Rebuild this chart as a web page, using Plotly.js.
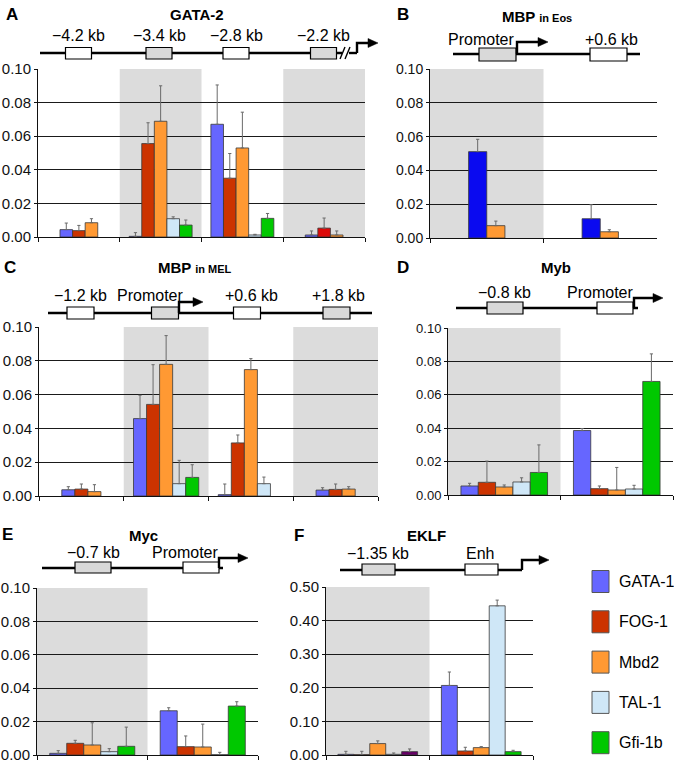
<!DOCTYPE html>
<html>
<head>
<meta charset="utf-8">
<script src="https://cdn.plot.ly/plotly-3.0.1.min.js"></script>
<style>
  html, body { margin: 0; padding: 0; background: #fff; }
  #chart { width: 674px; height: 763px; }
</style>
</head>
<body>
<div id="chart"></div>
<script>
// ---------------- DATA ----------------
const SERIES = ['GATA-1', 'FOG-1', 'Mbd2', 'TAL-1', 'Gfi-1b'];

// Panel A: GATA-2
const A_CATS = ['\u22124.2 kb', '\u22123.4 kb', '\u22122.8 kb', '\u22122.2 kb'];
const A_GATA1 = [0.0044, 0.0004, 0.0671, 0.0012];
const A_FOG1  = [0.0038, 0.0556, 0.0350, 0.0053];
const A_MBD2  = [0.0085, 0.0689, 0.0530, 0.0012];
const A_TAL1  = [null, 0.0109, 0.0012, null];
const A_GFI1B = [null, 0.0071, 0.0111, null];
const A_GATA1_ERR = [0.0039, 0.0022, 0.0234, 0.0024];
const A_FOG1_ERR  = [0.0031, 0.0124, 0.0147, 0.0060];
const A_MBD2_ERR  = [0.0024, 0.0211, 0.0213, 0.0024];
const A_TAL1_ERR  = [null, 0.0011, 0.0004, null];
const A_GFI1B_ERR = [null, 0.0030, 0.0029, null];

// Panel B: MBP in Eos
const B_CATS = ['Promoter', '+0.6 kb'];
const B_GATA1 = [0.0511, 0.0114];
const B_MBD2  = [0.0073, 0.0037];
const B_GATA1_ERR = [0.0073, 0.0083];
const B_MBD2_ERR  = [0.0027, 0.0012];

// Panel C: MBP in MEL
const C_CATS = ['\u22121.2 kb', 'Promoter', '+0.6 kb', '+1.8 kb'];
const C_GATA1 = [0.0037, 0.0458, 0.0008, 0.0035];
const C_FOG1  = [0.0041, 0.0542, 0.0314, 0.0039];
const C_MBD2  = [0.0026, 0.0779, 0.0748, 0.0041];
const C_TAL1  = [null, 0.0073, 0.0073, null];
const C_GFI1B = [null, 0.0110, null, null];
const C_GATA1_ERR = [0.0018, 0.0138, 0.0063, 0.0014];
const C_FOG1_ERR  = [0.0030, 0.0235, 0.0047, 0.0032];
const C_MBD2_ERR  = [0.0041, 0.0170, 0.0065, 0.0014];
const C_TAL1_ERR  = [null, 0.0138, 0.0039, null];
const C_GFI1B_ERR = [null, 0.0075, null, null];

// Panel D: Myb
const D_CATS = ['\u22120.8 kb', 'Promoter'];
const D_GATA1 = [0.0054, 0.0386];
const D_FOG1  = [0.0076, 0.0038];
const D_MBD2  = [0.0048, 0.0030];
const D_TAL1  = [0.0078, 0.0036];
const D_GFI1B = [0.0135, 0.0680];
const D_GATA1_ERR = [0.0016, 0.0012];
const D_FOG1_ERR  = [0.0127, 0.0016];
const D_MBD2_ERR  = [0.0012, 0.0135];
const D_TAL1_ERR  = [0.0025, 0.0022];
const D_GFI1B_ERR = [0.0165, 0.0165];

// Panel E: Myc
const E_CATS = ['\u22120.7 kb', 'Promoter'];
const E_GATA1 = [0.0010, 0.0265];
const E_FOG1  = [0.0070, 0.0050];
const E_MBD2  = [0.0060, 0.0048];
const E_TAL1  = [0.0020, 0.0002];
const E_GFI1B = [0.0052, 0.0293];
const E_GATA1_ERR = [0.0016, 0.0018];
const E_FOG1_ERR  = [0.0018, 0.0064];
const E_MBD2_ERR  = [0.0133, 0.0137];
const E_TAL1_ERR  = [0.0018, 0.0014];
const E_GFI1B_ERR = [0.0115, 0.0026];

// Panel F: EKLF
const F_CATS = ['\u22121.35 kb', 'Enh'];
const F_GATA1 = [0.002, 0.207];
const F_FOG1  = [0.001, 0.012];
const F_MBD2  = [0.034, 0.022];
const F_TAL1  = [0.002, 0.444];
const F_GFI1B = [0.010, 0.010];
const F_GATA1_ERR = [0.009, 0.040];
const F_FOG1_ERR  = [0.010, 0.011];
const F_MBD2_ERR  = [0.008, 0.003];
const F_TAL1_ERR  = [0.004, 0.017];
const F_GFI1B_ERR = [0.008, 0.004];

// ---------------- STYLE ----------------
const COLORS = ['#6666ff', '#cc3300', '#ff9933', '#cfe7f7', '#00c800'];
const B_COLORS = ['#0a0af0', '#ff9933'];
const SHADE = '#dcdcdc';
const FONT = 'Liberation Sans, Arial, Helvetica, sans-serif';
const W = 674, H = 763;
const PX = v => v / W;
const PY = v => 1 - v / H;

const traces = [];
const shapes = [];
const annotations = [];

function errBar(es) {
  return {
    type: 'data', symmetric: false, array: es, arrayminus: es.map(() => 0),
    color: '#6a6a6a', thickness: 1, width: 1.6, visible: true
  };
}

function addPanel(ax, ay, cats, vals, errs, overrides) {
  overrides = overrides || {};
  const full = cats.map((_, j) => vals[3][j] != null || vals[4][j] != null);
  const mk = (k, ys, es, ag, og) => ({
    type: 'bar', name: SERIES[k], x: cats, y: ys, xaxis: ax, yaxis: ay,
    alignmentgroup: ag, offsetgroup: og, showlegend: false, hoverinfo: 'skip',
    marker: {
      color: ys.map((_, j) => (overrides[k] && overrides[k][j]) || COLORS[k]),
      line: { color: '#3a3a3a', width: 0.8 }
    },
    error_y: errBar(es)
  });
  for (let k = 0; k < 5; k++) {
    traces.push(mk(k, vals[k].map((v, j) => full[j] ? v : null),
                   errs[k].map((v, j) => full[j] ? v : null), 'full', 's' + k));
  }
  if (full.some(f => !f)) {
    const pad = og => ({ type: 'bar', x: cats, y: cats.map(() => null), xaxis: ax, yaxis: ay,
      alignmentgroup: 'part', offsetgroup: og, showlegend: false, hoverinfo: 'skip' });
    traces.push(pad('p0'));
    for (let k = 0; k < 3; k++) {
      traces.push(mk(k, vals[k].map((v, j) => full[j] ? null : v),
                     errs[k].map((v, j) => full[j] ? null : v), 'part', 's' + k));
    }
    traces.push(pad('p4'));
  }
}

addPanel('x', 'y', A_CATS, [A_GATA1, A_FOG1, A_MBD2, A_TAL1, A_GFI1B],
  [A_GATA1_ERR, A_FOG1_ERR, A_MBD2_ERR, A_TAL1_ERR, A_GFI1B_ERR], { 1: { 3: '#dd0a0a' } });
addPanel('x3', 'y3', C_CATS, [C_GATA1, C_FOG1, C_MBD2, C_TAL1, C_GFI1B],
  [C_GATA1_ERR, C_FOG1_ERR, C_MBD2_ERR, C_TAL1_ERR, C_GFI1B_ERR]);
addPanel('x4', 'y4', D_CATS, [D_GATA1, D_FOG1, D_MBD2, D_TAL1, D_GFI1B],
  [D_GATA1_ERR, D_FOG1_ERR, D_MBD2_ERR, D_TAL1_ERR, D_GFI1B_ERR]);
addPanel('x5', 'y5', E_CATS, [E_GATA1, E_FOG1, E_MBD2, E_TAL1, E_GFI1B],
  [E_GATA1_ERR, E_FOG1_ERR, E_MBD2_ERR, E_TAL1_ERR, E_GFI1B_ERR]);
addPanel('x6', 'y6', F_CATS, [F_GATA1, F_FOG1, F_MBD2, F_TAL1, F_GFI1B],
  [F_GATA1_ERR, F_FOG1_ERR, F_MBD2_ERR, F_TAL1_ERR, F_GFI1B_ERR], { 4: { 0: '#660066' } });

// Panel B: two series, adjacent bars centred on each category
[[B_GATA1, B_GATA1_ERR, -0.16, 0], [B_MBD2, B_MBD2_ERR, 0, 1]].forEach(([ys, es, off, c]) => {
  traces.push({
    type: 'bar', name: c === 0 ? 'GATA-1' : 'Mbd2', x: B_CATS, y: ys, xaxis: 'x2', yaxis: 'y2',
    width: 0.16, offset: off, showlegend: false, hoverinfo: 'skip',
    marker: { color: B_COLORS[c], line: { color: '#3a3a3a', width: 0.8 } },
    error_y: errBar(es)
  });
});

// ---------------- AXES ----------------
const panels = [
  { id: '',  cats: A_CATS, x: [38, 365], y: [69, 237], max: 0.1, dt: 0.02, fs: 15, shade: [0, 1, 0, 1] },
  { id: '2', cats: B_CATS, x: [430, 657], y: [69, 238], max: 0.1, dt: 0.02, fs: 14, shade: [1, 0] },
  { id: '3', cats: C_CATS, x: [39, 378], y: [327, 496], max: 0.1, dt: 0.02, fs: 15, shade: [0, 1, 0, 1] },
  { id: '4', cats: D_CATS, x: [448, 673], y: [328, 495], max: 0.1, dt: 0.02, fs: 13, shade: [1, 0] },
  { id: '5', cats: E_CATS, x: [37, 258], y: [588, 755], max: 0.1, dt: 0.02, fs: 15, shade: [1, 0] },
  { id: '6', cats: F_CATS, x: [326, 533], y: [587, 755], max: 0.5, dt: 0.1, fs: 15, shade: [1, 0] }
];

const layout = {
  width: W, height: H, margin: { l: 0, r: 0, t: 0, b: 0 },
  paper_bgcolor: '#ffffff', plot_bgcolor: 'rgba(0,0,0,0)',
  showlegend: false, barmode: 'group', bargap: 0.23, bargroupgap: 0,
  font: { family: FONT, color: '#111' }
};

panels.forEach(p => {
  layout['xaxis' + p.id] = {
    domain: [PX(p.x[0]), PX(p.x[1])], anchor: 'y' + p.id, type: 'category',
    range: [-0.5, p.cats.length - 0.5], showticklabels: false, showgrid: false,
    showline: true, linecolor: '#111', linewidth: 1, ticks: 'outside', tickson: 'boundaries',
    ticklen: 4, tickcolor: '#111', zeroline: false, fixedrange: true
  };
  layout['yaxis' + p.id] = {
    domain: [PY(p.y[1]), PY(p.y[0])], anchor: 'x' + p.id,
    range: [0, p.max], dtick: p.dt, tick0: 0, tickformat: '.2f', ticklabeloverflow: 'allow',
    showline: true, linecolor: '#111', linewidth: 1, ticks: 'outside', ticklen: 3, tickcolor: '#111',
    showgrid: true, gridcolor: '#1a1a1a', gridwidth: 1, zeroline: false, fixedrange: true,
    tickfont: { family: FONT, size: p.fs, color: '#111' }
  };
  p.shade.forEach((s, i) => {
    if (s) shapes.push({ type: 'rect', xref: 'x' + p.id, yref: 'y' + p.id + ' domain',
      x0: i - 0.5, x1: i + 0.5, y0: 0, y1: 1, fillcolor: SHADE, line: { width: 0 }, layer: 'below' });
  });
});

// ---------------- GENE DIAGRAMS ----------------
function line(x0, y0, x1, y1, w) {
  shapes.push({ type: 'line', xref: 'paper', yref: 'paper', x0: PX(x0), y0: PY(y0), x1: PX(x1), y1: PY(y1),
    line: { color: '#000', width: w || 2.4 } });
}
function box(x0, x1, y0, y1, shaded) {
  shapes.push({ type: 'rect', xref: 'paper', yref: 'paper', x0: PX(x0), x1: PX(x1), y0: PY(y1), y1: PY(y0),
    fillcolor: shaded ? '#d9d9d9' : '#ffffff', line: { color: '#000', width: 1.2 } });
}
function arrow(x, yBase, yTop, xEnd) {
  shapes.push({ type: 'path', xref: 'paper', yref: 'paper',
    path: `M ${PX(x)},${PY(yBase)} L ${PX(x)},${PY(yTop)} L ${PX(xEnd - 7)},${PY(yTop)}`,
    line: { color: '#000', width: 2.4 } });
  shapes.push({ type: 'path', xref: 'paper', yref: 'paper',
    path: `M ${PX(xEnd)},${PY(yTop)} L ${PX(xEnd - 10)},${PY(yTop - 4.5)} L ${PX(xEnd - 10)},${PY(yTop + 4.5)} Z`,
    fillcolor: '#000', line: { color: '#000', width: 0.5 } });
}
function text(t, x, y, size, bold, anchor) {
  annotations.push({ xref: 'paper', yref: 'paper', x: PX(x), y: PY(y), text: bold ? '<b>' + t + '</b>' : t,
    showarrow: false, xanchor: anchor || 'center', yanchor: 'middle',
    font: { family: FONT, size: size, color: '#000' } });
}

// A
text('A', 4, 14, 17, true, 'left');
text('GATA-2', 197, 14, 15, true);
line(40, 53, 342, 53); line(349, 53, 357, 53);
line(340, 59, 345, 47, 1.4); line(345, 59, 350, 47, 1.4);
[78.5, 159, 236, 323.5].forEach((c, i) => { box(c - 13, c + 13, 47.5, 59, [0, 1, 0, 1][i]); text(A_CATS[i], c, 36, 16); });
arrow(357, 53, 43, 378);

// B
text('B', 395, 14, 17, true, 'left');
text('MBP <span style="font-size:11px">in Eos</span>', 537, 17, 15, true);
line(453, 54, 640, 54);
box(479, 516, 48, 61, 1); box(590, 627, 48, 61, 0);
arrow(517, 54, 42, 548);
text(B_CATS[0], 481, 39, 16); text(B_CATS[1], 611, 39, 16);

// C
text('C', 2, 268, 17, true, 'left');
text('MBP <span style="font-size:11px">in MEL</span>', 195, 268, 15, true);
line(48, 313, 372, 313);
[80.5, 165, 247, 336.5].forEach((c, i) => box(c - 13.5, c + 13.5, 307, 319, [0, 1, 0, 1][i]));
arrow(179, 313, 302, 203);
[80, 150, 252, 338].forEach((c, i) => text(C_CATS[i], c, 296, 16));

// D
text('D', 395, 268, 17, true, 'left');
text('Myb', 556, 268, 15, true);
line(456, 308, 638, 308);
box(487, 523, 302, 314, 1); box(597, 633, 302, 314, 0);
arrow(634, 308, 298, 663);
text(D_CATS[0], 505, 292, 16); text(D_CATS[1], 600, 292, 16);

// E
text('E', 0, 534, 17, true, 'left');
text('Myc', 143, 535, 15, true);
line(42, 568, 223, 568);
box(75, 111, 562, 573, 1); box(183, 219, 562, 573, 0);
arrow(219, 568, 558, 248);
text(E_CATS[0], 93, 552, 16); text(E_CATS[1], 185, 552, 16);

// F
text('F', 292, 535, 17, true, 'left');
text('EKLF', 427, 535, 15, true);
line(340, 570, 522, 570);
box(362, 395, 564, 575, 1); box(465, 498, 564, 575, 0);
arrow(522, 570, 560, 549);
text(F_CATS[0], 378, 553, 16); text(F_CATS[1], 480, 553, 16);

// ---------------- LEGEND ----------------
SERIES.forEach((s, i) => {
  const cy = 581.5 + i * 40.3;
  shapes.push({ type: 'rect', xref: 'paper', yref: 'paper', x0: PX(592), x1: PX(609), y0: PY(cy + 11), y1: PY(cy - 11),
    fillcolor: COLORS[i], line: { color: '#555', width: 1 } });
  text(s, 617, cy, 16, false, 'left');
});

layout.shapes = shapes;
layout.annotations = annotations;

Plotly.newPlot('chart', traces, layout, { staticPlot: true, displayModeBar: false }).then(gd => {
  // make sure no y tick label was hidden by overflow checks
  try {
    document.querySelectorAll('.ytick').forEach(g => {
      g.style.display = ''; g.style.opacity = '1'; g.removeAttribute('display');
      const t = g.querySelector('text');
      if (t) { t.style.display = ''; t.style.opacity = '1'; t.removeAttribute('display'); }
    });
  } catch (e) {}
});
</script>
</body>
</html>
